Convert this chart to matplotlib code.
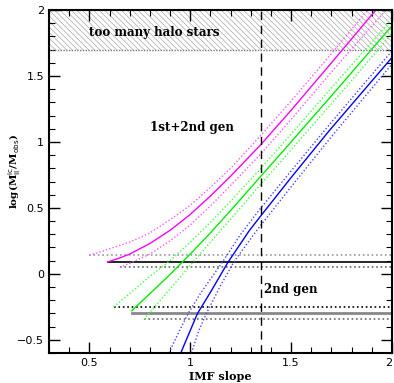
import matplotlib
matplotlib.use("Agg")
import matplotlib.pyplot as plt
from matplotlib.ticker import MultipleLocator, FuncFormatter

# ---- data ----
mag_x = [0.59, 0.65, 0.70, 0.80, 0.90, 1.00, 1.10, 1.20, 1.35, 1.50, 1.70, 1.92]
mag_y = [0.09, 0.12, 0.15, 0.23, 0.33, 0.45, 0.59, 0.74, 0.98, 1.24, 1.60, 2.00]
mag_up_x = [0.50, 0.60, 0.70, 0.80, 0.90, 1.00, 1.10, 1.20, 1.35, 1.50, 1.70, 1.88]
mag_up_y = [0.14, 0.19, 0.24, 0.31, 0.41, 0.52, 0.655, 0.80, 1.05, 1.31, 1.67, 2.00]
mag_lo_x = [0.65, 0.70, 0.80, 0.90, 1.00, 1.10, 1.20, 1.35, 1.50, 1.70, 1.97]
mag_lo_y = [0.05, 0.08, 0.15, 0.25, 0.37, 0.515, 0.67, 0.91, 1.17, 1.53, 2.00]

grn_x = [0.71, 0.80, 0.90, 1.00, 1.10, 1.20, 1.35, 1.50, 1.70, 2.00]
grn_y = [-0.28, -0.15, -0.005, 0.15, 0.31, 0.48, 0.74, 1.00, 1.35, 1.88]
grn_up_x = [0.62, 0.70, 0.80, 0.90, 1.00, 1.10, 1.20, 1.35, 1.50, 1.70, 2.00]
grn_up_y = [-0.25, -0.15, -0.02, 0.10, 0.24, 0.39, 0.55, 0.80, 1.06, 1.41, 1.93]
grn_lo_x = [0.77, 0.90, 1.00, 1.10, 1.20, 1.35, 1.50, 1.70, 2.00]
grn_lo_y = [-0.345, -0.115, 0.065, 0.24, 0.415, 0.68, 0.94, 1.29, 1.82]

blu_x = [0.953, 1.00, 1.036, 1.10, 1.188, 1.292, 1.35, 1.50, 1.69, 2.00]
blu_y = [-0.60, -0.43, -0.30, -0.14, 0.09, 0.326, 0.44, 0.73, 1.087, 1.64]
blu_up_x = [0.894, 0.95, 0.99, 1.05, 1.10, 1.16, 1.25, 1.35, 1.50, 1.70, 2.00]
blu_up_y = [-0.60, -0.42, -0.30, -0.15, -0.04, 0.09, 0.30, 0.50, 0.78, 1.15, 1.69]
blu_lo_x = [1.006, 1.04, 1.08, 1.15, 1.216, 1.328, 1.50, 1.70, 2.00]
blu_lo_y = [-0.60, -0.44, -0.30, -0.09, 0.09, 0.326, 0.66, 1.04, 1.59]

# horizontal limits: (start x, y)
h12_solid = (0.59, 0.09)
h12_up = (0.50, 0.14)
h12_lo = (0.65, 0.05)
h2_up = (0.62, -0.25)
h2_solid = (0.71, -0.30)
h2_lo = (0.77, -0.345)

halo_limit = 1.7
imf_ref = 1.35

plt.rcParams['hatch.linewidth'] = 0.5
plt.rcParams['hatch.color'] = '#a8a8a8'

fig = plt.figure(figsize=(3.94, 3.83), dpi=100)
ax = fig.add_axes([49/394, 30/383, 343/394, 343/383])
ax.set_xlim(0.3, 2.0)
ax.set_ylim(-0.6, 2.0)

# hatched region
ax.fill_between([0.3, 2.0], halo_limit, 2.0, facecolor='none', edgecolor='#a8a8a8',
                hatch='\\\\\\\\\\\\', linewidth=0)
ax.axhline(halo_limit, color='#777777', ls=(0, (1, 1)), lw=1.0)

# horizontal constraint lines
ax.plot([h12_up[0], 2.0], [h12_up[1]]*2, color='#999999', ls=':', lw=1.2)
ax.plot([h12_solid[0], 2.0], [h12_solid[1]]*2, color='black', ls='-', lw=1.2)
ax.plot([h12_lo[0], 2.0], [h12_lo[1]]*2, color='#666666', ls=':', lw=1.2)
ax.plot([h2_up[0], 2.0], [h2_up[1]]*2, color='black', ls=':', lw=1.2)
ax.plot([h2_solid[0], 2.0], [h2_solid[1]]*2, color='#888888', ls='-', lw=2.0)
ax.plot([h2_lo[0], 2.0], [h2_lo[1]]*2, color='#666666', ls=':', lw=1.2)

# curves
for (x, y, c) in [(mag_x, mag_y, '#ff00ff'), (grn_x, grn_y, '#00ee00'), (blu_x, blu_y, '#0000ff')]:
    ax.plot(x, y, color=c, lw=1.0)
for (x, y, c) in [(mag_up_x, mag_up_y, '#ff55ff'), (mag_lo_x, mag_lo_y, '#ff55ff'),
                  (grn_up_x, grn_up_y, '#44ff44'), (grn_lo_x, grn_lo_y, '#44ff44'),
                  (blu_up_x, blu_up_y, '#4444ff'), (blu_lo_x, blu_lo_y, '#4444ff')]:
    ax.plot(x, y, color=c, lw=1.0, ls=(0, (1, 1.5)))

ax.axvline(imf_ref, color='black', ls=(0, (6, 4)), lw=1.0)

tf = dict(fontsize=8.6, fontweight='bold', family='DejaVu Serif')
ax.text(0.5, 1.83, 'too many halo stars', ha='left', va='center', **tf)
ax.text(0.8, 1.11, '1st+2nd gen', ha='left', va='center', **tf)
ax.text(1.5, -0.12, '2nd gen', ha='center', va='center', **tf)

ax.xaxis.set_major_locator(MultipleLocator(0.5))
ax.xaxis.set_minor_locator(MultipleLocator(0.1))
ax.yaxis.set_major_locator(MultipleLocator(0.5))
ax.yaxis.set_minor_locator(MultipleLocator(0.1))
ax.tick_params(which='both', direction='in', top=True, right=True, labelsize=8)
ax.tick_params(which='major', length=8, width=1.0)
ax.tick_params(which='minor', length=4, width=0.8)
ax.xaxis.set_major_formatter(FuncFormatter(lambda v, p: f'{v:g}'))
ax.yaxis.set_major_formatter(FuncFormatter(lambda v, p: f'{v:g}'.replace('-', '\u2212')))
for s in ax.spines.values():
    s.set_linewidth(1.5)

ax.set_xlabel('IMF slope', fontsize=8, fontweight='bold', family='DejaVu Serif', labelpad=2)
ax.set_ylabel(r'log(M$^{\rm ic}_{\rm II}$/M$_{\rm obs}$)', fontsize=7.5, fontweight='bold',
              family='DejaVu Serif')
ax.yaxis.set_label_coords(-0.075, 0.53)

fig.canvas.draw()
for lab in ax.get_xticklabels():
    if lab.get_text() == '2':
        lab.set_horizontalalignment('right')

fig.savefig('out.png', dpi=100)
